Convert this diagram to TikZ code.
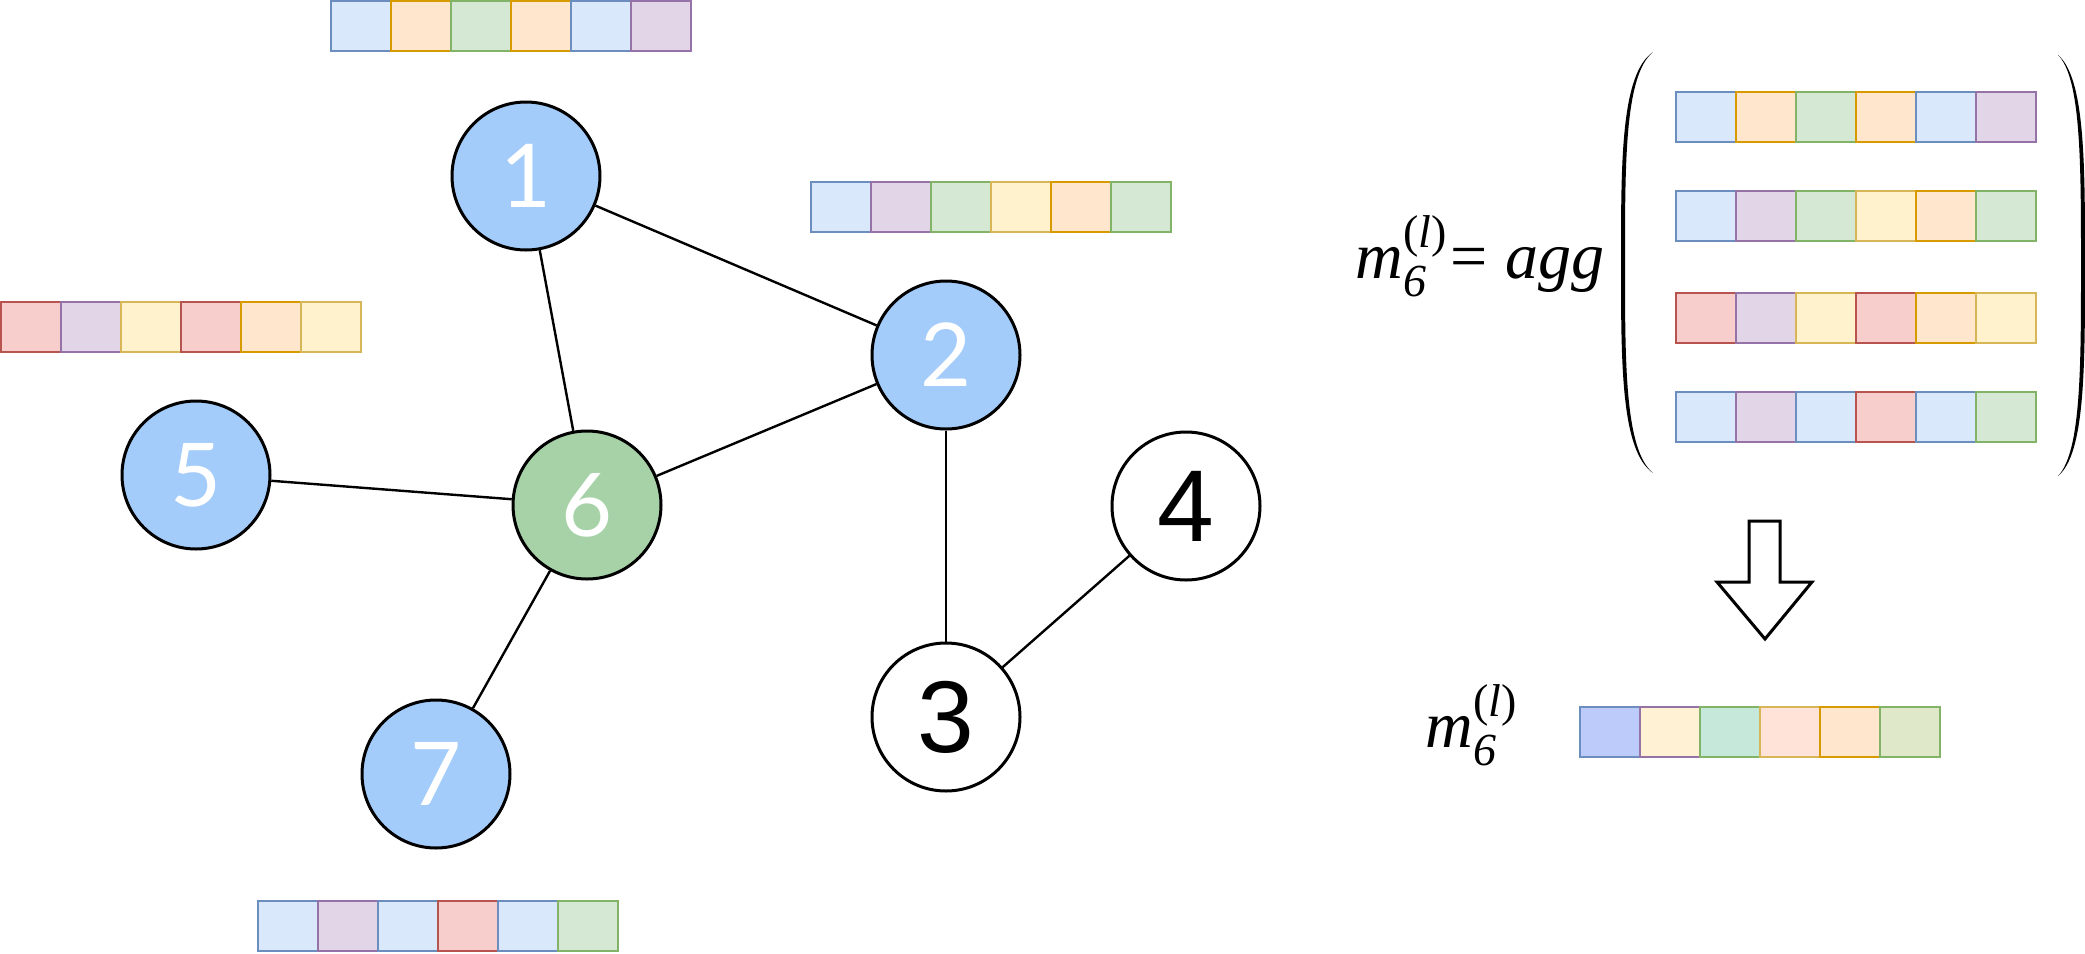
\documentclass[tikz,border=0pt]{standalone}
\usepackage{fontspec}
\setmainfont{Liberation Serif}
\newfontfamily\LatoF{Lato}
\newfontfamily\ArialF{Liberation Sans}
\definecolor{fillB}{HTML}{DAE8FC}
\definecolor{lineB}{HTML}{6C8EBF}
\definecolor{fillO}{HTML}{FFE6CC}
\definecolor{lineO}{HTML}{D79B00}
\definecolor{fillG}{HTML}{D5E8D4}
\definecolor{lineG}{HTML}{82B366}
\definecolor{fillP}{HTML}{E1D5E7}
\definecolor{lineP}{HTML}{9673A6}
\definecolor{fillY}{HTML}{FFF2CC}
\definecolor{lineY}{HTML}{D6B656}
\definecolor{fillR}{HTML}{F8CECC}
\definecolor{lineR}{HTML}{B85450}
\definecolor{fillM1}{HTML}{BDCBFB}
\definecolor{fillM2}{HTML}{FFF2D4}
\definecolor{fillM3}{HTML}{C5E8DA}
\definecolor{fillM4}{HTML}{FFE2D8}
\definecolor{fillM6}{HTML}{DFE8C8}
\definecolor{nodeblue}{HTML}{A4CCFA}
\definecolor{nodegreen}{HTML}{A7D2A8}
\newcommand{\NodeF}{\LatoF\fontsize{44}{44}\selectfont}
\newcommand{\NodeDarkF}{\ArialF\fontsize{51}{51}\selectfont}
\newcommand{\EqF}{\fontsize{33}{33}\selectfont}
\newcommand{\ScriptF}{\fontsize{23}{23}\selectfont}
\newcommand{\MsgSym}{\textit{m}\rlap{\raisebox{-9pt}{\ScriptF\itshape 6}}\raisebox{15.5pt}{\ScriptF(\textit{l})}}
\newcommand{\FeatVec}[4]{%
  \foreach \f/\l [count=\i] in {#4}
    \node[vcell, fill=fill\f, draw=line\l] (#1-\i) at ({#2+60*\i-30},{#3+25}) {};}

\begin{document}
\begin{tikzpicture}[x=0.5pt, y=-0.5pt,
    vcell/.style={rectangle, inner sep=0pt, minimum width=30pt, minimum height=25pt, line width=1pt},
    gnode/.style={circle, draw, line width=1.5pt, minimum size=74pt, inner sep=0pt},
    hot/.style={gnode, fill=nodeblue, text=white, font=\NodeF},
    self/.style={gnode, fill=nodegreen, text=white, font=\NodeF},
    cold/.style={gnode, fill=white, font=\NodeDarkF},
    link/.style={line width=1.2pt},
    formula/.style={inner sep=0pt, anchor=base west, font=\EqF}]
  \useasboundingbox (0,0) rectangle (2085,954);

  % graph
  \node[hot]  (n1) at (526,176) {1};
  \node[hot]  (n2) at (946,355) {2};
  \node[cold] (n3) at (946,717) {3};
  \node[cold] (n4) at (1186,506) {4};
  \node[hot]  (n5) at (196,475) {5};
  \node[self] (n6) at (587,505) {6};
  \node[hot]  (n7) at (436,774) {7};
  \draw[link] (n1) -- (n2);
  \draw[link] (n1) -- (n6);
  \draw[link] (n2) -- (n6);
  \draw[link] (n5) -- (n6);
  \draw[link] (n6) -- (n7);
  \draw[link] (n2) -- (n3);
  \draw[link] (n3) -- (n4);

  % neighbour features
  \FeatVec{h1}{331}{1}{B/B, O/O, G/G, O/O, B/B, P/P}
  \FeatVec{h2}{811}{182}{B/B, P/P, G/G, Y/Y, O/O, G/G}
  \FeatVec{h5}{1}{302}{R/R, P/P, Y/Y, R/R, O/O, Y/Y}
  \FeatVec{h7}{258}{901}{B/B, P/P, B/B, R/R, B/B, G/G}

  % aggregation
  \node[formula] (agg) at (1355,278) {\MsgSym\hspace{2pt}=\hspace{9pt}\textit{agg}};
  \fill (1653,52) .. controls (1621,74) and (1621,160) .. (1621,262)
    .. controls (1621,365) and (1621,451) .. (1653,473)
    .. controls (1625,450) and (1625,365) .. (1625,262)
    .. controls (1625,160) and (1625,75) .. (1653,52) -- cycle;
  \fill (2058,55) .. controls (2085,78) and (2085,163) .. (2085,265)
    .. controls (2085,368) and (2085,454) .. (2058,476)
    .. controls (2081,452) and (2081,368) .. (2081,265)
    .. controls (2081,163) and (2081,78) .. (2058,55) -- cycle;
  \FeatVec{r1}{1676}{92}{B/B, O/O, G/G, O/O, B/B, P/P}
  \FeatVec{r2}{1676}{191}{B/B, P/P, G/G, Y/Y, O/O, G/G}
  \FeatVec{r3}{1676}{293}{R/R, P/P, Y/Y, R/R, O/O, Y/Y}
  \FeatVec{r4}{1676}{392}{B/B, P/P, B/B, R/R, B/B, G/G}

  \draw[line width=1.5pt, line join=miter, fill=white]
    (1749,521) -- (1780,521) -- (1780,582) -- (1812,582) -- (1765,639)
    -- (1717,582) -- (1749,582) -- cycle;

  % result
  \node[formula] (msg) at (1425,747) {\MsgSym};
  \FeatVec{m}{1580}{707}{M1/B, M2/P, M3/G, M4/Y, O/O, M6/G}
\end{tikzpicture}
\end{document}
